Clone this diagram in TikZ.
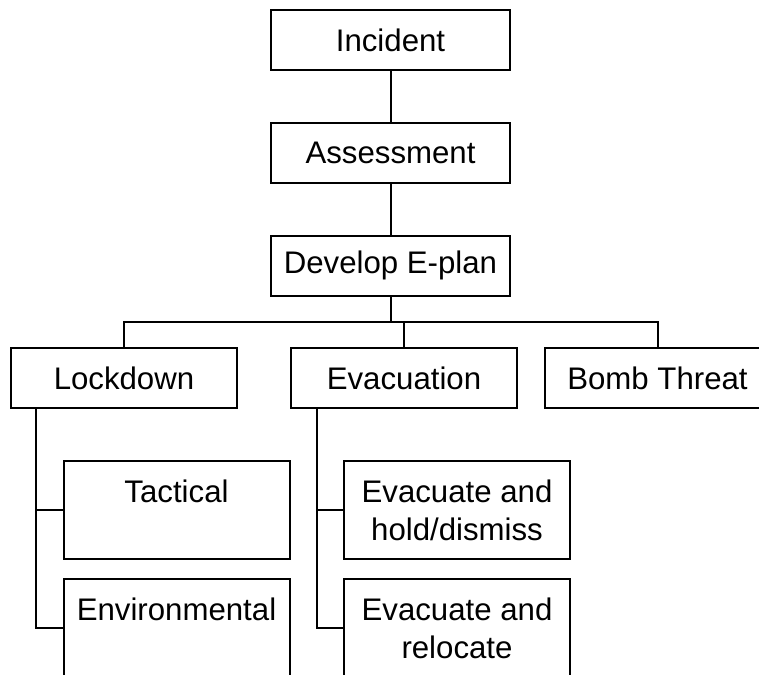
\documentclass[tikz,border=0pt]{standalone}
\usepackage{fontspec}
\setmainfont{Liberation Sans}
\usetikzlibrary{positioning}

\tikzset{
  box/.style={draw,line width=1.5pt,align=center,inner sep=0pt,
    minimum width=169.5pt,minimum height=45pt},
  topbox/.style={box,minimum width=179.25pt},
  subbox/.style={box,minimum height=73.5pt},
  link/.style={line width=1.5pt}
}

\begin{document}
\begin{tikzpicture}[x=0.75pt,y=-0.75pt,font=\fontsize{23.4}{28.5}\selectfont]
\useasboundingbox (0,0) rectangle (759,674);
\fill[white] (0,0) rectangle (759,674);

% main chain
\node[topbox] (inc) at (390.5,40) {Incident};
\node[topbox] (assess) at (390.5,153) {Assessment};
\node[topbox] (plan) at (390.5,265.5) {Develop E-plan};

% plan types
\node[box] (lock) at (124,378) {Lockdown};
\node[box] (evac) at (404,378) {Evacuation};
\node[box] (bomb) at (657.5,378) {Bomb Threat};

% sub plans
\node[subbox] (tact) at (176.5,510) {Tactical\\~};
\node[subbox] (env) at (176.5,628) {Environmental\\~};
\node[subbox] (hold) at (457,510) {Evacuate and\\hold/dismiss};
\node[subbox] (reloc) at (457,628) {Evacuate and\\relocate};

\coordinate (bus) at (390.5,322);
\coordinate (lockline) at ([xshift=19.5pt]lock.south west);
\coordinate (evacline) at ([xshift=20.25pt]evac.south west);

\draw[link] (inc) -- (assess);
\draw[link] (assess) -- (plan);
\draw[link] (plan) -- (bus);
\draw[link] (lock.north) |- (bus) -| (bomb.north);
\draw[link] (evac.north) -- (evac.north |- bus);
\draw[link] (lockline) |- (tact.west);
\draw[link] (lockline) |- (env.west);
\draw[link] (evacline) |- (hold.west);
\draw[link] (evacline) |- (reloc.west);
\end{tikzpicture}
\end{document}
